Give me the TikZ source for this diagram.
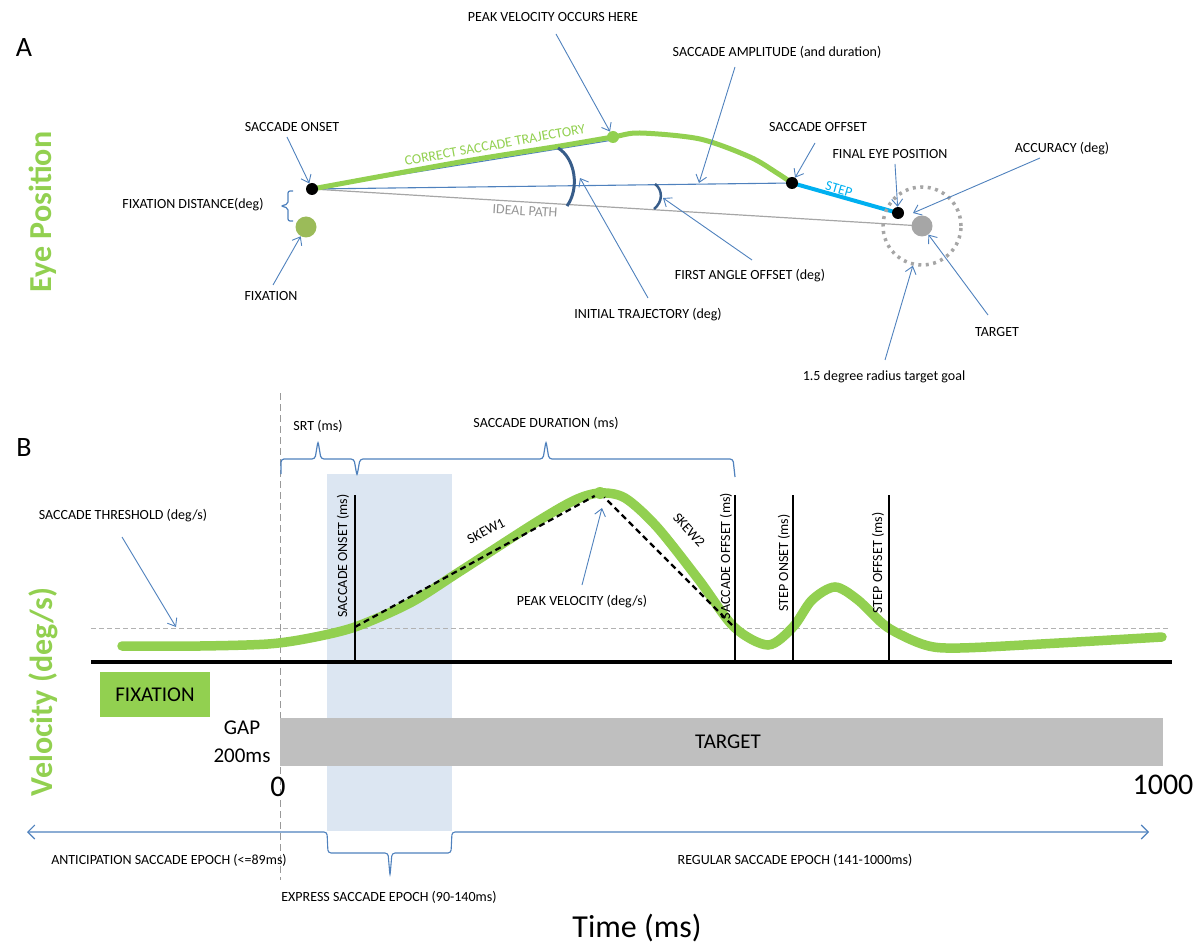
\documentclass[tikz,border=0pt]{standalone}
\usepackage{fontspec}
\setmainfont{Carlito}
\usetikzlibrary{arrows.meta}
\definecolor{eyegreen}{HTML}{92D050}
\definecolor{fixgreen}{HTML}{9BBB59}
\definecolor{callblue}{HTML}{4F81BD}
\definecolor{arcblue}{HTML}{385D8A}
\definecolor{stepblue}{HTML}{00B0F0}
\definecolor{tgtgray}{HTML}{A6A6A6}
\definecolor{bargray}{HTML}{BFBFBF}
\definecolor{epochblue}{HTML}{DCE6F2}
\tikzset{lbl/.style = {font = \fontsize{14}{16}\selectfont, inner sep = 0}}
\tikzset{big/.style = {font = \fontsize{21}{28}\selectfont, inner sep = 0}}
\tikzset{panel/.style = {font = \fontsize{28}{30}\selectfont, inner sep = 0}}
\tikzset{axis/.style = {font = \fontsize{32}{36}\selectfont\bfseries, text = eyegreen, rotate = 90, inner sep = 0}}
\tikzset{callout/.style = {draw = callblue, line width = 0.9, -{Straight Barb[length = 7pt, width = 11pt]}}}
\tikzset{brack/.style = {draw = callblue, line width = 1.2, rounded corners = 3}}
\tikzset{circ/.style = {fill, circle, inner sep = 0, minimum size = 12}}
\tikzset{marker/.style = {line width = 1.2}}

\begin{document}
\begin{tikzpicture}[x = 1pt, y = -1pt]
    \useasboundingbox (0, 0) rectangle (1199, 949);

    % A: eye position
    \node [panel] (A) at (24, 48) {A};
    \node [axis] (eyeaxis) at (43, 212) {Eye Position};

    \coordinate (onset) at (312, 189);
    \coordinate (peak) at (613, 137);
    \coordinate (offset) at (792, 183);
    \coordinate (final) at (898, 213);
    \coordinate (target) at (922, 226);

    \draw [tgtgray, line width = 1.2] (onset) -- (target);
    \draw [callblue, line width = 1.1] (onset) -- (613, 140);
    \draw [callblue, line width = 1.1] (onset) -- (offset);
    \draw [eyegreen, line width = 5, line cap = round] plot [smooth] coordinates {(312, 189) (460, 162) (560, 146) (613, 137) (640, 133) (700, 139) (750, 157) (777, 173) (792, 183)};
    \draw [stepblue, line width = 4] (offset) -- (final);

    \draw [arcblue, line width = 3] (558, 148) .. controls (575, 158) and (580, 188) .. (567, 206);
    \draw [arcblue, line width = 2.5] (655, 184) .. controls (663, 190) and (663, 202) .. (654, 209);

    \node [circ] (onsetdot) at (onset) {};
    \node [circ, fixgreen, minimum size = 21] (fixdot) at (306, 227) {};
    \node [circ, eyegreen, minimum size = 12] (peakdot) at (peak) {};
    \node [circ] (offsetdot) at (offset) {};
    \node [circ] (finaldot) at (final) {};
    \node [circ, tgtgray, minimum size = 21] (tgtdot) at (target) {};
    \node [draw = tgtgray, circle, line width = 3.5, dash pattern = on 3pt off 4.5pt, minimum size = 78, inner sep = 0] (goal) at (target) {};

    \node [lbl, text = eyegreen, rotate = 10.3] (correct) at (495, 145) {CORRECT SACCADE TRAJECTORY};
    \node [lbl, text = tgtgray!90!black, rotate = -3.6] (ideal) at (525, 211) {IDEAL PATH};
    \node [lbl, text = stepblue, rotate = -16] (step) at (839, 189) {STEP};

    \draw [brack, rounded corners = 2] (293, 191) -- (288, 191) -- (288, 204) -- (281, 206) -- (288, 208) -- (288, 221) -- (293, 221);

    \node [lbl] (peaklbl) at (553, 17) {PEAK VELOCITY OCCURS HERE};
    \node [lbl] (amplbl) at (777, 52) {SACCADE AMPLITUDE (and duration)};
    \node [lbl] (onsetlbl) at (292, 127) {SACCADE ONSET};
    \node [lbl] (offsetlbl) at (818, 127) {SACCADE OFFSET};
    \node [lbl] (finallbl) at (890, 154) {FINAL EYE POSITION};
    \node [lbl] (acclbl) at (1062, 149) {ACCURACY (deg)};
    \node [lbl] (distlbl) at (193, 205) {FIXATION DISTANCE(deg)};
    \node [lbl] (fixlbl) at (271, 296) {FIXATION};
    \node [lbl] (firstlbl) at (750, 276) {FIRST ANGLE OFFSET (deg)};
    \node [lbl] (initlbl) at (648, 315) {INITIAL TRAJECTORY (deg)};
    \node [lbl] (tgtlbl) at (997, 332) {TARGET};
    \node [lbl] (goallbl) at (884, 377) {1.5 degree radius target goal};

    \coordinate (amptip) at (699, 183);
    \coordinate (acctip) at (913, 213);
    \coordinate (firsttip) at (663, 198);
    \coordinate (inittip) at (580, 178);

    \draw [callout] ([shift = {(3, 17)}]peaklbl.center) -- (peakdot);
    \draw [callout] ([shift = {(-42, 15)}]amplbl.center) -- (amptip);
    \draw [callout] ([shift = {(-5, 10)}]onsetlbl.center) -- (onsetdot);
    \draw [callout] ([shift = {(-3, 16)}]offsetlbl.center) -- (offsetdot);
    \draw [callout] ([shift = {(5, 10)}]finallbl.center) -- (finaldot);
    \draw [callout] ([shift = {(-22, 9)}]acclbl.center) -- (acctip);
    \draw [callout] ([shift = {(2, -11)}]fixlbl.center) -- (fixdot);
    \draw [callout] ([shift = {(2, -16)}]firstlbl.center) -- (firsttip);
    \draw [callout] ([shift = {(0, -17)}]initlbl.center) -- (inittip);
    \draw [callout] ([shift = {(-9, -17)}]tgtlbl.center) -- (tgtdot);
    \draw [callout] ([shift = {(1, -17)}]goallbl.center) -- (goal.-103);

    % B: velocity
    \node [panel] (B) at (24, 448) {B};
    \node [axis] (velaxis) at (43, 692) {Velocity (deg/s)};

    \fill [epochblue] (327, 474) rectangle (452, 831);
    \draw [gray!80, dash pattern = on 7pt off 4pt] (280, 393) -- (280, 880);
    \draw [gray!60, dash pattern = on 5pt off 3pt] (91, 628) -- (1168, 628);

    \draw [eyegreen, line width = 9.5, line cap = round] plot [smooth] coordinates {(122, 646) (200, 646) (268, 644) (310, 638) (355, 627) (410, 603) (459, 572) (535, 523) (575, 500) (600, 493) (625, 498) (657, 527) (699, 580) (734, 627) (768, 645) (793, 627) (812, 600) (835, 587) (858, 600) (887, 627) (925, 645) (960, 648) (1059, 643) (1162, 637)};

    \coordinate (skewstart) at (355, 627);
    \coordinate (vpeak) at (600, 493);
    \coordinate (skewend) at (734, 627);
    \draw [line width = 2.2, dash pattern = on 6pt off 4pt] (skewstart) -- (vpeak) -- (skewend);
    \node [circ, eyegreen, minimum size = 12] (vpeakdot) at (vpeak) {};

    \foreach \x in {355, 735, 793, 889}
        \draw [marker] (\x, 495) -- (\x, 662);
    \draw [line width = 4] (91, 662) -- (1172, 662);

    \node [lbl, rotate = 90] (onsetms) at (343, 556) {SACCADE ONSET (ms)};
    \node [lbl, rotate = 90] (offsetms) at (726, 556) {SACCADE OFFSET (ms)};
    \node [lbl, rotate = 90] (steponms) at (784, 563) {STEP ONSET (ms)};
    \node [lbl, rotate = 90] (stepoffms) at (878, 563) {STEP OFFSET (ms)};
    \node [lbl, rotate = 27] (skew1) at (486, 531) {SKEW1};
    \node [lbl, rotate = -48] (skew2) at (689, 530) {SKEW2};

    \draw [brack] (281, 474) -- (281, 459) -- (315, 459) -- (318, 441) -- (321, 459) -- (354, 459) -- (357, 476) -- (360, 459) -- (543, 459) -- (546, 441) -- (549, 459) -- (733, 459) -- (735, 477);
    \node [lbl] (srtlbl) at (318, 426) {SRT (ms)};
    \node [lbl] (durlbl) at (546, 423) {SACCADE DURATION (ms)};

    \node [lbl] (thrlbl) at (123, 516) {SACCADE THRESHOLD (deg/s)};
    \node [lbl] (pvlbl) at (582, 602) {PEAK VELOCITY (deg/s)};
    \coordinate (thrtip) at (176, 627);
    \coordinate (pvtip) at (602, 508);
    \draw [callout] ([shift = {(-1, 21)}]thrlbl.center) -- (thrtip);
    \draw [callout] ([shift = {(0, -17)}]pvlbl.center) -- (pvtip);

    \node [big, fill = eyegreen, minimum width = 110, minimum height = 45] (fixbox) at (155, 694.5) {FIXATION};
    \fill [bargray] (280, 718) rectangle (1163, 766);
    \node [big] (tgtbar) at (728, 742) {TARGET};
    \node [big, align = center] (gap) at (242, 742) {GAP\\200ms};
    \node [font = \fontsize{30}{32}\selectfont, inner sep = 0] (zero) at (278, 787) {0};
    \node [font = \fontsize{30}{32}\selectfont, inner sep = 0] (thousand) at (1163, 785) {1000};

    \coordinate (epochL) at (27, 832);
    \coordinate (epochR) at (1149, 832);
    \draw [callblue, line width = 1.1, rounded corners = 3, {Straight Barb[length = 7pt, width = 14pt]}-{Straight Barb[length = 7pt, width = 14pt]}] (epochL) -- (327, 832) -- (328, 853) -- (388, 853) -- (390, 876) -- (392, 853) -- (451, 853) -- (452, 832) -- (epochR);

    \node [lbl] (anticip) at (169, 860) {ANTICIPATION SACCADE EPOCH (<=89ms)};
    \node [lbl] (express) at (389, 897) {EXPRESS SACCADE EPOCH (90-140ms)};
    \node [lbl] (regular) at (795, 860) {REGULAR SACCADE EPOCH (141-1000ms)};
    \node [font = \fontsize{32}{36}\selectfont, inner sep = 0] (time) at (637, 928) {Time (ms)};
\end{tikzpicture}
\end{document}
